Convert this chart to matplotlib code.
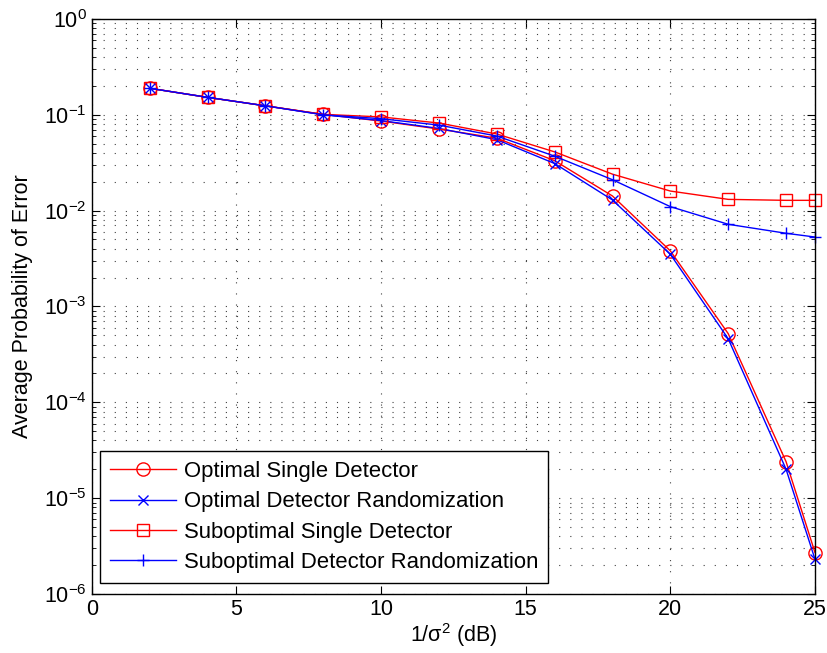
import matplotlib
matplotlib.use('Agg')
import matplotlib.pyplot as plt
from matplotlib.ticker import LogLocator, NullFormatter

# data
snr_db = [2, 4, 6, 8, 10, 12, 14, 16, 18, 20, 22, 24, 25]
opt_single = [0.189, 0.152, 0.124, 0.101, 0.086, 0.071, 0.057, 0.0332, 0.0142, 0.0038, 5.2e-4, 2.4e-5, 2.7e-6]
opt_random = [0.189, 0.152, 0.124, 0.100, 0.087, 0.072, 0.055, 0.031, 0.0129, 0.0035, 4.6e-4, 2.0e-5, 2.3e-6]
sub_single = [0.189, 0.152, 0.124, 0.101, 0.095, 0.082, 0.063, 0.041, 0.024, 0.016, 0.0131, 0.0128, 0.0128]
sub_random = [0.189, 0.152, 0.124, 0.100, 0.091, 0.078, 0.060, 0.037, 0.021, 0.011, 0.0072, 0.0058, 0.0053]

plt.rcParams['font.family'] = ['Liberation Sans', 'DejaVu Sans']
plt.rcParams['mathtext.fontset'] = 'custom'
plt.rcParams['mathtext.rm'] = 'Liberation Sans'
plt.rcParams['mathtext.it'] = 'Liberation Sans'
plt.rcParams['mathtext.default'] = 'regular'

fs = 15.5

fig = plt.figure(figsize=(8.27, 6.53), dpi=100)
ax = fig.add_axes([0.111, 0.0904, 0.8745, 0.8806])

ax.plot(snr_db, opt_single, color='red', lw=1, marker='o', ms=9.5, mfc='none', mew=1, clip_on=False, label='Optimal Single Detector')
ax.plot(snr_db, opt_random, color='blue', lw=1, marker='x', ms=7, mew=1, clip_on=False, label='Optimal Detector Randomization')
ax.plot(snr_db, sub_single, color='red', lw=1, marker='s', ms=8.5, mfc='none', mew=1, clip_on=False, label='Suboptimal Single Detector')
ax.plot(snr_db, sub_random, color='blue', lw=1, marker='+', ms=9, mew=1, clip_on=False, label='Suboptimal Detector Randomization')

ax.set_yscale('log')
ax.set_xlim(0, 25)
ax.set_ylim(1e-6, 1)
ax.set_xticks([0, 5, 10, 15, 20, 25])
ax.yaxis.set_major_locator(LogLocator(base=10, numticks=10))
ax.yaxis.set_minor_locator(LogLocator(base=10, subs=range(2, 10), numticks=100))
ax.yaxis.set_minor_formatter(NullFormatter())

dots = (0, (1, 9))
ax.grid(True, which='major', axis='both', color='0.25', linestyle=dots, lw=0.8)
ax.grid(True, which='minor', axis='y', color='0.25', linestyle=dots, lw=0.8)
ax.tick_params(which='both', direction='in', top=True, right=True, labelsize=fs)
ax.tick_params(which='major', length=6)
ax.tick_params(which='minor', length=3)
for s in ax.spines.values():
    s.set_linewidth(1)

ax.set_xlabel('1/σ$^2$ (dB)', fontsize=fs, labelpad=1)
ax.set_ylabel('Average Probability of Error', fontsize=fs, labelpad=8)

leg = ax.legend(loc='lower left', bbox_to_anchor=(8 / 723, 11 / 575), fontsize=15.9,
                fancybox=False, framealpha=1, edgecolor='black',
                handlelength=3.0, handletextpad=0.35, borderaxespad=0,
                labelspacing=0.42, borderpad=0.45)
leg.get_frame().set_linewidth(1)
leg.set_zorder(5)

plt.savefig('out.png', dpi=100)
